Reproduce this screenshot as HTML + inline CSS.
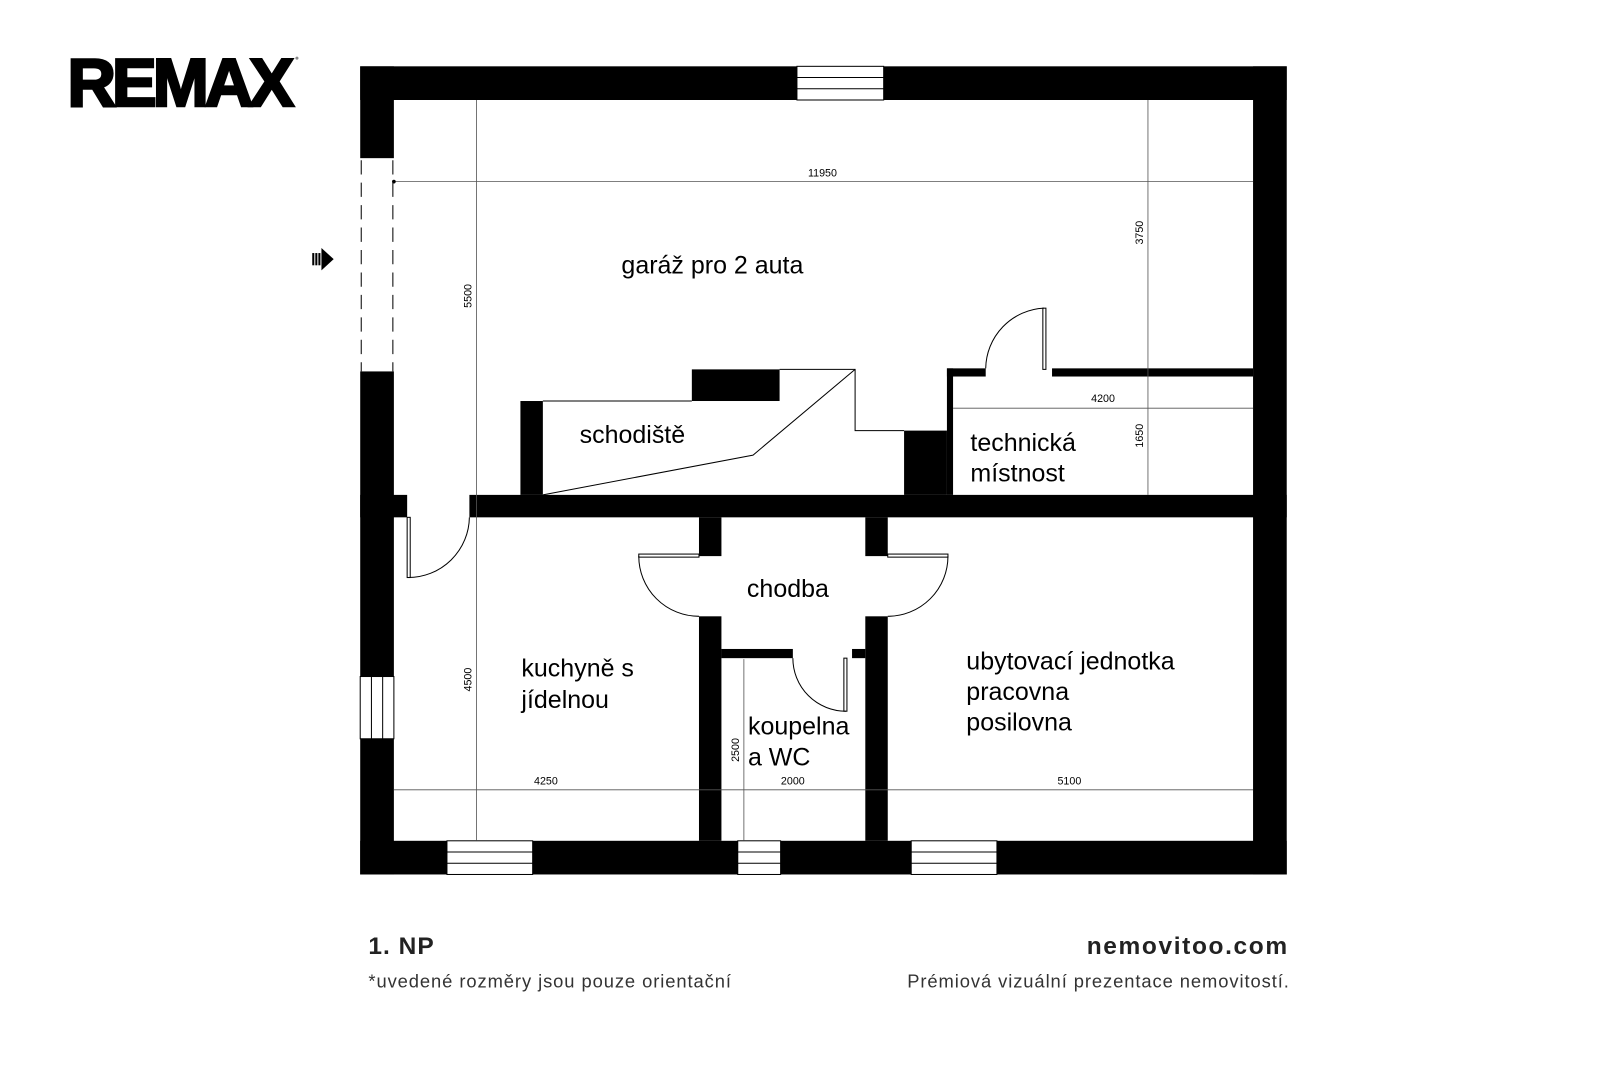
<!DOCTYPE html>
<html><head><meta charset="utf-8"><style>
html,body{margin:0;padding:0;background:#fff;}
svg{display:block;}
text{font-family:"Liberation Sans",sans-serif;}
.r{font-size:24.5px;fill:#000;}
.d{font-size:10.5px;fill:#000;}
</style></head><body>
<svg width="1600" height="1066" viewBox="0 0 1568 1044.7" xmlns="http://www.w3.org/2000/svg">
<rect width="1568" height="1045" fill="#fff"/>
<text x="66" y="104" font-size="66" font-weight="bold" letter-spacing="-4" stroke="#000" stroke-width="2.5">REMAX</text>
<circle cx="291" cy="57" r="1.5" fill="#888"/>

<g fill="#000">
<rect x="353" y="65" width="908" height="33"/>
<rect x="1228" y="65" width="33" height="792"/>
<rect x="353" y="824" width="908" height="33"/>
<rect x="353" y="65" width="33" height="90"/>
<rect x="353" y="364" width="33" height="299"/>
<rect x="353" y="724" width="33" height="133"/>
<rect x="353" y="485" width="46" height="22"/>
<rect x="460" y="485" width="801" height="22"/>
<rect x="510" y="393" width="22" height="92"/>
<rect x="678" y="362" width="86" height="31"/>
<rect x="886" y="422" width="42" height="63"/>
<rect x="928" y="361" width="6" height="124"/>
<rect x="928" y="361" width="38" height="8"/>
<rect x="1031" y="361" width="197" height="8"/>
<rect x="685" y="507" width="22" height="38"/>
<rect x="848" y="507" width="22" height="38"/>
<rect x="685" y="604" width="22" height="220"/>
<rect x="848" y="604" width="22" height="220"/>
<rect x="707" y="636" width="70" height="9"/>
<rect x="835" y="636" width="13" height="9"/>
</g>

<g fill="#fff" stroke="#000" stroke-width="1">
<rect x="781" y="65" width="85" height="33"/>
<rect x="438" y="824" width="84" height="33"/>
<rect x="723" y="824" width="42" height="33"/>
<rect x="893" y="824" width="84" height="33"/>
<rect x="353" y="663" width="33" height="61"/>
</g>
<g stroke="#000" stroke-width="1">
<line x1="781" y1="76" x2="866" y2="76"/><line x1="781" y1="87" x2="866" y2="87"/>
<line x1="438" y1="835" x2="522" y2="835"/><line x1="438" y1="846" x2="522" y2="846"/>
<line x1="723" y1="835" x2="765" y2="835"/><line x1="723" y1="846" x2="765" y2="846"/>
<line x1="893" y1="835" x2="977" y2="835"/><line x1="893" y1="846" x2="977" y2="846"/>
<line x1="364" y1="663" x2="364" y2="724"/><line x1="375" y1="663" x2="375" y2="724"/>
</g>
<g stroke="#000" stroke-width="1" stroke-dasharray="14,8">
<line x1="354" y1="157" x2="354" y2="364"/>
<line x1="385" y1="157" x2="385" y2="364"/>
</g>

<g fill="none" stroke="#000" stroke-width="1">
<polyline points="532,393 678,393"/>
<polyline points="764,362 838,362 838,422 886,422"/>
<polyline points="838,362 738,446 532,485"/>
<rect x="399" y="507" width="3" height="59"/>
<path d="M400,566 A60,60 0 0 0 460,507"/>
<rect x="1022" y="302" width="3" height="60"/>
<path d="M1023,302 A60,60 0 0 0 966,361"/>
<rect x="626" y="543" width="59" height="3"/>
<path d="M626,545 A59,59 0 0 0 685,604"/>
<rect x="870" y="543" width="59" height="3"/>
<path d="M929,545 A59,59 0 0 1 870,604"/>
<rect x="827" y="645" width="3" height="52"/>
<path d="M829,697 A52,52 0 0 1 777,645"/>
</g>

<g stroke="#555" stroke-width="0.8" fill="none">
<line x1="386" y1="178" x2="1228" y2="178"/>
<line x1="467" y1="98" x2="467" y2="824"/>
<line x1="1125" y1="98" x2="1125" y2="485"/>
<line x1="934" y1="400" x2="1228" y2="400"/>
<line x1="386" y1="774" x2="1228" y2="774"/>
<line x1="729" y1="646" x2="729" y2="824"/>
</g>
<circle cx="386" cy="178" r="1.8"/>
<text class="d" x="806" y="173" text-anchor="middle">11950</text>
<text class="d" x="1081" y="394" text-anchor="middle">4200</text>
<text class="d" x="535" y="769" text-anchor="middle">4250</text>
<text class="d" x="777" y="769" text-anchor="middle">2000</text>
<text class="d" x="1048" y="769" text-anchor="middle">5100</text>
<text class="d" transform="translate(462,290) rotate(-90)" text-anchor="middle">5500</text>
<text class="d" transform="translate(462,666) rotate(-90)" text-anchor="middle">4500</text>
<text class="d" transform="translate(1120,228) rotate(-90)" text-anchor="middle">3750</text>
<text class="d" transform="translate(1120,427) rotate(-90)" text-anchor="middle">1650</text>
<text class="d" transform="translate(724,735) rotate(-90)" text-anchor="middle">2500</text>

<g fill="#000">
<rect x="306" y="248" width="2" height="12"/><rect x="309" y="248" width="2" height="12"/><rect x="312" y="248" width="2" height="12"/>
<polygon points="315,243 327,254 315,265"/>
</g>

<text class="r" x="609" y="268">garáž pro 2 auta</text>
<text class="r" x="568" y="434">schodiště</text>
<text class="r" x="951" y="442">technická</text>
<text class="r" x="951" y="472">místnost</text>
<text class="r" x="732" y="585">chodba</text>
<text class="r" x="511" y="663">kuchyně s</text>
<text class="r" x="511" y="694">jídelnou</text>
<text class="r" x="733" y="720">koupelna</text>
<text class="r" x="733" y="750">a WC</text>
<text class="r" x="947" y="656">ubytovací jednotka</text>
<text class="r" x="947" y="686">pracovna</text>
<text class="r" x="947" y="716">posilovna</text>

<text x="361" y="935" font-size="24" font-weight="bold" fill="#222" letter-spacing="1">1. NP</text>
<text x="361" y="968" font-size="18" fill="#333" letter-spacing="0.9">*uvedené rozměry jsou pouze orientační</text>
<text x="1263" y="935" font-size="24" font-weight="bold" fill="#222" text-anchor="end" letter-spacing="1.6">nemovitoo.com</text>
<text x="1264" y="968" font-size="18" fill="#333" text-anchor="end" letter-spacing="0.9">Prémiová vizuální prezentace nemovitostí.</text>
</svg>
</body></html>
